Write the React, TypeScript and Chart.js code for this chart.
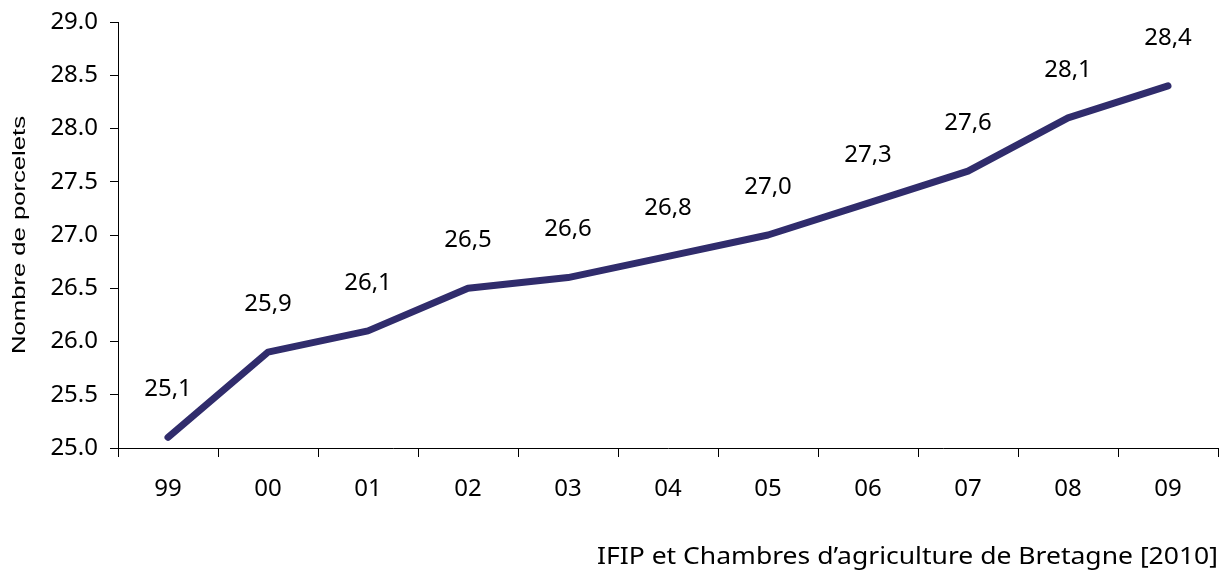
import React, { useEffect, useRef } from "react";
import { Chart, registerables } from "chart.js";

Chart.register(...registerables);

const categories = ["99", "00", "01", "02", "03", "04", "05", "06", "07", "08", "09"];
const porcelets = [25.1, 25.9, 26.1, 26.5, 26.6, 26.8, 27.0, 27.3, 27.6, 28.1, 28.4];
const yTitle = "Nombre de porcelets";
const sourceText = "IFIP et Chambres d\u2019agriculture de Bretagne [2010]";
const yMin = 25;
const yMax = 29;
const yStep = 0.5;

const LINE_COLOR = "#302C6C";
const FONT = "'Noto Sans', 'Open Sans', sans-serif";
const TITLE_FONT = "'Liberation Sans', Arial, sans-serif";

function drawStretched(ctx: any, text: string, targetWidth: number) {
  const w = ctx.measureText(text).width;
  const sx = targetWidth / w;
  ctx.scale(sx, 1);
  ctx.fillText(text, 0, 0);
}

const labelPlugin = {
  id: "pointLabels",
  afterDatasetsDraw(chart: any) {
    const { ctx } = chart;
    const meta = chart.getDatasetMeta(0);
    ctx.save();
    ctx.font = `24px ${FONT}`;
    ctx.fillStyle = "#000";
    ctx.textAlign = "center";
    ctx.textBaseline = "middle";
    meta.data.forEach((pt: any, i: number) => {
      const txt = porcelets[i].toFixed(1).replace(".", ",");
      ctx.fillText(txt, pt.x, pt.y - 48);
    });
    ctx.restore();
  },
  afterDraw(chart: any) {
    const { ctx, chartArea } = chart;
    // source
    ctx.save();
    ctx.font = `24px ${FONT}`;
    ctx.fillStyle = "#000";
    ctx.textAlign = "left";
    ctx.textBaseline = "middle";
    ctx.translate(chart.width - 11 - 621, 557);
    drawStretched(ctx, sourceText, 621);
    ctx.restore();
    // y axis title
    ctx.save();
    ctx.font = `18px ${TITLE_FONT}`;
    ctx.fillStyle = "#000";
    ctx.textAlign = "center";
    ctx.textBaseline = "middle";
    ctx.translate(20, (chartArea.top + chartArea.bottom) / 2);
    ctx.rotate(-Math.PI / 2);
    drawStretched(ctx, yTitle, 238);
    ctx.restore();
  },
};

export default function App() {
  const ref = useRef<HTMLCanvasElement>(null);
  useEffect(() => {
    if (!ref.current) return;
    const chart = new Chart(ref.current, {
      type: "line",
      data: {
        labels: categories,
        datasets: [
          {
            data: porcelets,
            borderColor: LINE_COLOR,
            borderWidth: 7,
            borderCapStyle: "round",
            borderJoinStyle: "round",
            pointRadius: 0,
            tension: 0,
          },
        ],
      },
      options: {
        animation: false,
        responsive: false,
        maintainAspectRatio: false,
        layout: { padding: { left: 6, top: 22, right: 11, bottom: 0 } },
        plugins: { legend: { display: false }, tooltip: { enabled: false }, title: { display: false } },
        scales: {
          x: {
            type: "category",
            offset: true,
            border: { display: true, color: "#000", width: 1 },
            grid: { display: true, offset: true, drawOnChartArea: false, drawTicks: true, tickLength: 9, color: "#000" },
            ticks: { color: "#000", font: { family: FONT, size: 24 }, padding: 18, maxRotation: 0 },
            afterFit: (s: any) => {
              s.height = 133;
              s.paddingLeft = 0;
              s.paddingRight = 0;
            },
          },
          y: {
            min: yMin,
            max: yMax,
            border: { display: true, color: "#000", width: 1 },
            grid: { display: true, drawOnChartArea: false, drawTicks: true, tickLength: 8, color: "#000" },
            ticks: {
              stepSize: yStep,
              color: "#000",
              font: { family: FONT, size: 24 },
              padding: 12,
              callback: (v: any) => Number(v).toFixed(1),
            },
            afterFit: (s: any) => {
              s.width = 112;
              s.paddingTop = 0;
              s.paddingBottom = 0;
            },
          },
        },
      },
      plugins: [labelPlugin],
    });
    return () => chart.destroy();
  }, []);
  return (
    <div style={{ position: "fixed", left: 0, top: 0, width: 1229, height: 581, background: "#fff" }}>
      <canvas ref={ref} width={1229} height={581} style={{ display: "block" }} />
    </div>
  );
}
